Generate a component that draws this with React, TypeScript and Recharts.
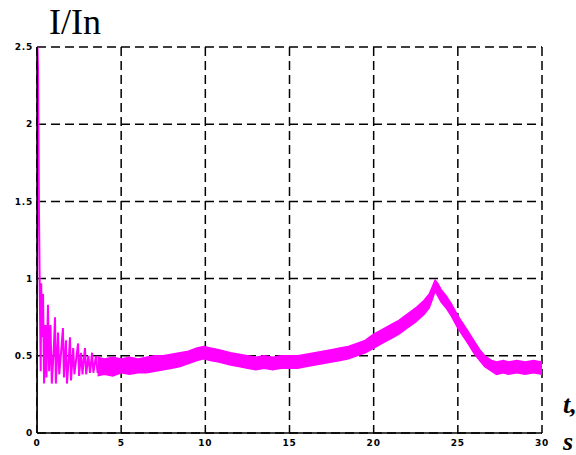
import { ComposedChart, Line, Area, XAxis, YAxis, CartesianGrid } from "recharts"

const xTicks = [0, 5, 10, 15, 20, 25, 30]
const yTicks = [0, 0.5, 1, 1.5, 2, 2.5]

// start-up transient: time (s) and I/In
const transientT = [
  0, 0.01, 0.03, 0.06, 0.12, 0.16, 0.22, 0.25, 0.3, 0.36, 0.42, 0.5, 0.56, 0.65, 0.72, 0.8, 0.88,
  1.0, 1.07, 1.12, 1.25, 1.32, 1.45, 1.54, 1.6, 1.72, 1.78, 1.9, 1.96, 2.02, 2.15, 2.22, 2.35,
  2.44, 2.5, 2.62, 2.7, 2.85, 2.92, 3.05, 3.15, 3.27, 3.35, 3.5, 3.6, 3.75,
]
const transientI = [
  0, 2.5, 2.5, 2.36, 1.4, 0.98, 0.4, 0.97, 0.62, 0.9, 0.32, 0.7, 0.36, 0.83, 0.4, 0.7, 0.32,
  0.55, 0.75, 0.32, 0.65, 0.38, 0.55, 0.68, 0.36, 0.6, 0.32, 0.5, 0.62, 0.34, 0.55, 0.38, 0.5,
  0.58, 0.37, 0.52, 0.38, 0.55, 0.38, 0.5, 0.39, 0.52, 0.39, 0.5, 0.39, 0.48,
]

// noisy steady-state band: time (s), lower and upper edge of I/In
const bandT = [
  3.6, 4, 4.5, 5, 5.5, 6, 6.5, 7, 7.5, 8, 8.5, 9, 9.5, 9.9, 10.3, 10.8, 11.5, 12, 12.5, 13, 13.5, 14,
  14.5, 15, 15.5, 16, 16.5, 17, 17.5, 18, 18.5, 19, 19.5, 20, 20.5, 21, 21.5, 22, 22.5, 23, 23.3,
  23.5, 23.65, 23.8, 24, 24.3, 24.6, 25, 25.3, 25.6, 26, 26.3, 26.6, 27, 27.3, 27.7, 28, 28.5, 29,
  29.5, 30,
]
const bandLow = [
  0.37, 0.38, 0.37, 0.39, 0.38, 0.39, 0.39, 0.4, 0.41, 0.42, 0.43, 0.45, 0.47, 0.48, 0.47, 0.46,
  0.44, 0.43, 0.42, 0.41, 0.42, 0.41, 0.42, 0.42, 0.42, 0.43, 0.44, 0.45, 0.46, 0.47, 0.48, 0.5,
  0.52, 0.55, 0.58, 0.61, 0.64, 0.68, 0.72, 0.77, 0.81, 0.87, 0.92, 0.89, 0.85, 0.81, 0.76, 0.68,
  0.63, 0.58, 0.51, 0.47, 0.43, 0.4, 0.38, 0.39, 0.38, 0.39, 0.38, 0.39, 0.38,
]
const bandHigh = [
  0.49, 0.48, 0.49, 0.48, 0.49, 0.48, 0.49, 0.5, 0.5, 0.51, 0.52, 0.53, 0.55, 0.56, 0.55, 0.54,
  0.52, 0.51, 0.5, 0.49, 0.5, 0.49, 0.5, 0.5, 0.5, 0.51, 0.52, 0.53, 0.54, 0.55, 0.56, 0.58,
  0.6, 0.64, 0.67, 0.7, 0.73, 0.77, 0.81, 0.86, 0.9, 0.95, 0.99, 0.97, 0.93, 0.89, 0.84, 0.76,
  0.71, 0.66, 0.59, 0.54, 0.5, 0.47, 0.46, 0.47, 0.46, 0.47, 0.46, 0.47, 0.46,
]

const transientData = transientT.map((t, i) => ({ t, v: transientI[i] }))
const bandData = bandT.map((t, i) => ({ t, range: [bandLow[i], bandHigh[i]] }))

const MAGENTA = "#ff00ff"
const tickStyle = {
  fill: "#000",
  fontSize: 9,
  fontFamily: "DejaVu Sans",
  fontWeight: "bold" as const,
  letterSpacing: 0.8,
}
const axisLine = { stroke: "#000", strokeWidth: 1.6 }

export default function App() {
  return (
    <div style={{ position: "absolute", left: 0, top: 0, width: 576, height: 455, background: "#fff" }}>
      <ComposedChart width={576} height={455} margin={{ top: 47, right: 34, left: 7, bottom: 2 }}>
        <CartesianGrid stroke="#000" strokeWidth={1.5} strokeDasharray="9 5" />
        <XAxis
          type="number"
          dataKey="t"
          domain={[0, 30]}
          ticks={xTicks}
          allowDataOverflow
          height={20}
          tickSize={0}
          tickMargin={7}
          tick={tickStyle}
          axisLine={axisLine}
        />
        <XAxis
          xAxisId="top"
          orientation="top"
          type="number"
          domain={[0, 30]}
          height={0}
          tick={false}
          tickLine={false}
          axisLine={axisLine}
        />
        <YAxis
          type="number"
          domain={[0, 2.5]}
          ticks={yTicks}
          allowDataOverflow
          width={30}
          tickSize={0}
          tickMargin={4}
          tick={tickStyle}
          axisLine={axisLine}
        />
        <YAxis
          yAxisId="right"
          orientation="right"
          type="number"
          domain={[0, 2.5]}
          width={0}
          tick={false}
          tickLine={false}
          axisLine={axisLine}
        />
        <Area
          data={bandData}
          dataKey="range"
          type="linear"
          stroke={MAGENTA}
          strokeWidth={1.5}
          fill={MAGENTA}
          fillOpacity={1}
          isAnimationActive={false}
        />
        <Line
          data={transientData}
          dataKey="v"
          type="linear"
          stroke={MAGENTA}
          strokeWidth={2}
          dot={false}
          isAnimationActive={false}
        />
      </ComposedChart>
      <svg
        width={576}
        height={455}
        style={{ position: "absolute", left: 0, top: 0, pointerEvents: "none" }}
      >
        <text x={49} y={34} fontFamily="Liberation Serif" fontSize={36} fill="#000">
          I/In
        </text>
        <text x={563} y={413} fontFamily="Liberation Serif" fontSize={26} fontStyle="italic" fontWeight="bold" fill="#000">
          t,
        </text>
        <text x={563} y={450} fontFamily="Liberation Serif" fontSize={26} fontStyle="italic" fontWeight="bold" fill="#000">
          s
        </text>
      </svg>
    </div>
  )
}
